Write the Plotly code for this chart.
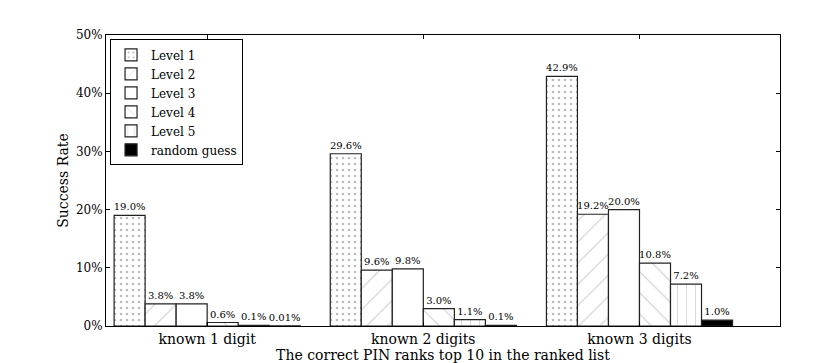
import plotly.graph_objects as go

categories = ["known 1 digit", "known 2 digits", "known 3 digits"]
series_names = ["Level 1", "Level 2", "Level 3", "Level 4", "Level 5", "random guess"]
level1 = [19.0, 29.6, 42.9]
level2 = [3.8, 9.6, 19.2]
level3 = [3.8, 9.8, 20.0]
level4 = [0.6, 3.0, 10.8]
level5 = [0.1, 1.1, 7.2]
random_guess = [0.01, 0.1, 1.0]
y_ticks = [0, 10, 20, 30, 40, 50]
y_tick_labels = ["0%", "10%", "20%", "30%", "40%", "50%"]

series_values = [level1, level2, level3, level4, level5, random_guess]
styles = [
    dict(color="white", pattern=dict(shape=".", fgcolor="#777", size=6, solidity=0.15)),
    dict(color="white", pattern=dict(shape="/", fgcolor="#999", size=15, solidity=0.07)),
    dict(color="white"),
    dict(color="white", pattern=dict(shape="\\", fgcolor="#999", size=15, solidity=0.07)),
    dict(color="white", pattern=dict(shape="|", fgcolor="#aaa", size=9, solidity=0.1)),
    dict(color="black"),
]

def fmt(v):
    return f"{v:.1f}%" if v >= 0.1 else f"{v:g}%"

FONT = "DejaVu Serif"
fig = go.Figure()
for name, vals, st in zip(series_names, series_values, styles):
    fig.add_trace(go.Bar(
        x=categories, y=vals, name=name,
        marker=dict(line=dict(color="#222", width=1.2), **st),
        text=[fmt(v) for v in vals], textposition="outside",
        textfont=dict(family=FONT, size=10, color="black"),
        constraintext="none", cliponaxis=False, textangle=0,
    ))

# page body adds an 8px offset, so the figure is 8px smaller than the window
fig.update_layout(
    width=822, height=355,
    margin=dict(l=98, r=50, t=27, b=37, autoexpand=False),
    paper_bgcolor="white", plot_bgcolor="white",
    barmode="group", bargap=0.139, bargroupgap=0,
    font=dict(family=FONT, size=12, color="black"),
    showlegend=True,
    legend=dict(x=0.006, y=0.985, xanchor="left", yanchor="top",
                bordercolor="black", borderwidth=1, bgcolor="white",
                font=dict(family=FONT, size=12), tracegroupgap=0,
                itemwidth=30),
)
fig.update_xaxes(
    range=[-0.468, 2.65], showline=True, linecolor="black", linewidth=1, mirror="ticks",
    ticks="inside", ticklen=4, tickcolor="black", automargin=False,
    tickfont=dict(family=FONT, size=14),
    title=dict(text="The correct PIN ranks top 10 in the ranked list", font=dict(family=FONT, size=14), standoff=0),
)
fig.update_yaxes(
    range=[0, 50], tickvals=y_ticks, ticktext=y_tick_labels, showgrid=False, zeroline=False,
    showline=True, linecolor="black", linewidth=1, mirror="ticks",
    ticks="inside", ticklen=4, tickcolor="black", automargin=False,
    tickfont=dict(family=FONT, size=12),
    title=dict(text="Success Rate", font=dict(family=FONT, size=14), standoff=4),
)
fig.write_html("out.html")
